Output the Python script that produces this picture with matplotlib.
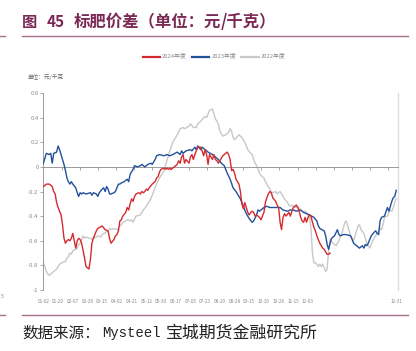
import numpy as np
import matplotlib
matplotlib.use("Agg")
import matplotlib.pyplot as plt
from matplotlib.lines import Line2D

plt.rcParams['font.family'] = ['Noto Sans CJK SC', 'DejaVu Sans']
plt.rcParams['axes.unicode_minus'] = False

# === DATA (trading-day index, price spread in yuan/kg) ===
days_2023 = [0, 2, 4, 5, 6, 7, 9, 10, 11, 12, 14, 15, 16, 17, 18, 19, 20, 22, 23, 24, 25, 26, 27, 29,
             32, 33, 34, 36, 37, 38, 40, 41, 42, 43, 44, 45, 46, 48, 49, 50, 51, 52, 53, 55, 57, 58,
             59, 61, 62, 64, 66, 67, 69, 71, 73, 74, 76, 77, 79, 82, 84, 86, 88, 91, 93, 94, 95, 97,
             100, 101, 103, 104, 105, 107, 108, 110, 112, 115, 117, 119, 121, 123, 125, 127, 129,
             131, 134, 136, 138, 140, 142, 143, 145, 146, 147, 150, 152, 154, 156, 159, 161, 163,
             166, 168, 170, 172, 175, 177, 179, 181, 184, 186, 187, 188, 191, 192, 193, 194, 195,
             196, 198, 200, 201, 202, 204, 206, 209, 210, 211, 213, 215, 217, 218, 219, 220, 221,
             222, 223, 225, 226, 227, 228, 229, 230, 232, 234, 235, 236, 237, 238, 239, 240]
vals_2023 = [0.03, 0.11, 0.10, 0.11, 0.03, 0.11, 0.12, 0.17, 0.14, 0.10, 0.02, -0.03, -0.09, -0.12,
             -0.14, -0.12, -0.14, -0.17, -0.21, -0.24, -0.21, -0.22, -0.21, -0.22, -0.21, -0.23,
             -0.21, -0.22, -0.24, -0.21, -0.18, -0.17, -0.20, -0.16, -0.18, -0.22, -0.22, -0.21,
             -0.20, -0.17, -0.14, -0.14, -0.13, -0.12, -0.10, -0.12, -0.06, -0.02, 0.01, 0.00, 0.01,
             0.02, 0.00, 0.02, 0.03, 0.02, 0.06, 0.09, 0.10, 0.09, 0.10, 0.09, 0.10, 0.12, 0.10,
             0.13, 0.11, 0.13, 0.14, 0.13, 0.16, 0.14, 0.17, 0.14, 0.16, 0.14, 0.12, 0.10, 0.08,
             0.06, 0.03, 0.01, -0.05, -0.10, -0.17, -0.20, -0.26, -0.32, -0.38, -0.42, -0.45, -0.44,
             -0.39, -0.35, -0.36, -0.33, -0.32, -0.33, -0.33, -0.33, -0.33, -0.35, -0.36, -0.35,
             -0.35, -0.36, -0.35, -0.37, -0.38, -0.39, -0.41, -0.44, -0.48, -0.50, -0.52, -0.56,
             -0.63, -0.67, -0.62, -0.58, -0.56, -0.51, -0.55, -0.56, -0.55, -0.55, -0.56, -0.59,
             -0.62, -0.64, -0.66, -0.64, -0.66, -0.63, -0.64, -0.62, -0.59, -0.56, -0.53, -0.52,
             -0.54, -0.55, -0.44, -0.41, -0.40, -0.33, -0.36, -0.32, -0.28, -0.25, -0.24, -0.19]

days_2024 = [0, 2, 4, 6, 7, 8, 9, 10, 11, 12, 13, 14, 15, 16, 17, 18, 19, 20, 21, 22, 23, 24, 25,
             26, 27, 28, 29, 31, 32, 33, 34, 35, 36, 37, 40, 42, 44, 45, 46, 48, 49, 50, 51, 52,
             53, 54, 56, 57, 58, 59, 60, 61, 62, 63, 65, 66, 67, 68, 69, 70, 71, 72, 74, 75, 76,
             77, 78, 79, 80, 82, 83, 84, 85, 86, 87, 88, 90, 91, 92, 93, 94, 95, 96, 97, 99, 100,
             101, 102, 103, 104, 105, 107, 108, 109, 110, 111, 112, 113, 115, 116, 117, 118, 119,
             120, 122, 123, 125, 126, 127, 128, 129, 130, 131, 133, 134, 135, 136, 137, 138, 139,
             140, 141, 142, 143, 144, 145, 146, 147, 148, 150, 151, 152, 153, 154, 155, 156, 158,
             159, 160, 161, 162, 163, 164, 165, 167, 168, 169, 170, 171, 172, 173, 174, 175, 176,
             177, 178, 179, 180, 181, 182, 183, 184, 185, 186, 187, 188, 189, 190, 191, 192, 193,
             194, 195]
vals_2024 = [-0.16, -0.14, -0.14, -0.16, -0.20, -0.22, -0.29, -0.33, -0.36, -0.39, -0.47, -0.58,
             -0.62, -0.60, -0.59, -0.60, -0.58, -0.54, -0.60, -0.66, -0.60, -0.58, -0.59, -0.62,
             -0.68, -0.74, -0.81, -0.83, -0.75, -0.62, -0.58, -0.55, -0.52, -0.50, -0.48, -0.51,
             -0.52, -0.58, -0.62, -0.59, -0.56, -0.55, -0.52, -0.44, -0.43, -0.40, -0.37, -0.33,
             -0.35, -0.30, -0.26, -0.28, -0.24, -0.22, -0.21, -0.22, -0.20, -0.21, -0.20, -0.18,
             -0.19, -0.17, -0.14, -0.13, -0.12, -0.09, -0.08, -0.04, -0.02, -0.01, -0.02, -0.01,
             -0.02, -0.01, -0.02, -0.01, 0.01, 0.02, 0.05, 0.03, 0.08, 0.10, 0.03, 0.06, 0.03,
             0.08, 0.10, 0.06, 0.10, 0.13, 0.16, 0.16, 0.13, 0.09, 0.14, 0.10, 0.02, 0.10, 0.06,
             0.10, 0.06, 0.05, 0.03, 0.05, 0.09, 0.10, 0.12, 0.10, 0.06, -0.03, -0.02, -0.05,
             -0.10, -0.14, -0.20, -0.30, -0.34, -0.29, -0.33, -0.37, -0.39, -0.37, -0.36, -0.37,
             -0.40, -0.39, -0.40, -0.41, -0.43, -0.37, -0.29, -0.25, -0.22, -0.20, -0.21, -0.25,
             -0.28, -0.31, -0.33, -0.45, -0.51, -0.41, -0.38, -0.40, -0.37, -0.40, -0.36, -0.33,
             -0.32, -0.31, -0.33, -0.36, -0.41, -0.44, -0.45, -0.41, -0.45, -0.41, -0.39, -0.40,
             -0.45, -0.49, -0.52, -0.56, -0.59, -0.62, -0.64, -0.66, -0.67, -0.69, -0.71, -0.71,
             -0.70]

days_2022 = [0, 1, 2, 3, 4, 6, 7, 9, 10, 11, 14, 15, 16, 17, 18, 19, 20, 22, 23, 24, 25, 26, 27,
             28, 29, 31, 32, 33, 34, 36, 37, 39, 40, 41, 42, 43, 44, 45, 46, 48, 50, 51, 52, 53,
             54, 56, 57, 58, 59, 60, 61, 63, 66, 68, 70, 73, 75, 77, 79, 82, 84, 86, 88, 91, 93,
             95, 96, 99, 100, 102, 104, 105, 107, 109, 110, 111, 113, 115, 116, 117, 118, 119, 120,
             121, 122, 124, 126, 127, 128, 129, 130, 133, 135, 136, 137, 138, 139, 141, 142, 143,
             144, 145, 146, 147, 148, 150, 151, 152, 153, 154, 155, 156, 158, 159, 160, 161, 162,
             163, 164, 166, 167, 168, 169, 170, 172, 173, 175, 176, 177, 178, 179, 180, 181, 182,
             183, 184, 185, 186, 187, 188, 189, 190, 191, 192, 193, 194, 195, 197, 199, 201, 202,
             203, 204, 205, 206, 207, 208, 209, 211, 212, 213, 214, 215, 216, 218, 219, 220, 221,
             222, 223, 224, 225, 227, 228, 229, 230, 231, 232, 234, 235, 236, 237, 238, 239, 240]
vals_2022 = [-0.78, -0.81, -0.85, -0.87, -0.88, -0.86, -0.85, -0.83, -0.81, -0.79, -0.77, -0.77,
             -0.74, -0.73, -0.70, -0.71, -0.68, -0.67, -0.66, -0.63, -0.62, -0.59, -0.56, -0.58,
             -0.57, -0.58, -0.58, -0.59, -0.58, -0.57, -0.56, -0.57, -0.55, -0.54, -0.54, -0.52,
             -0.52, -0.50, -0.51, -0.50, -0.51, -0.50, -0.48, -0.47, -0.45, -0.44, -0.43, -0.43,
             -0.44, -0.43, -0.45, -0.40, -0.39, -0.35, -0.32, -0.26, -0.20, -0.14, -0.09, -0.03,
             0.05, 0.13, 0.20, 0.26, 0.31, 0.32, 0.31, 0.33, 0.35, 0.32, 0.32, 0.35, 0.37, 0.40,
             0.41, 0.40, 0.46, 0.47, 0.43, 0.39, 0.37, 0.35, 0.29, 0.27, 0.25, 0.26, 0.28, 0.31,
             0.29, 0.24, 0.22, 0.26, 0.24, 0.22, 0.20, 0.17, 0.14, 0.11, 0.10, 0.06, 0.03, 0.01,
             -0.02, -0.05, -0.07, -0.09, -0.12, -0.14, -0.16, -0.18, -0.20, -0.21, -0.20, -0.22,
             -0.21, -0.20, -0.22, -0.24, -0.26, -0.29, -0.31, -0.32, -0.31, -0.32, -0.33, -0.32,
             -0.35, -0.36, -0.37, -0.36, -0.37, -0.39, -0.41, -0.50, -0.70, -0.78, -0.78, -0.79,
             -0.81, -0.79, -0.81, -0.79, -0.82, -0.85, -0.83, -0.68, -0.59, -0.62, -0.64, -0.60,
             -0.56, -0.54, -0.50, -0.45, -0.44, -0.48, -0.52, -0.56, -0.60, -0.56, -0.52, -0.48,
             -0.47, -0.51, -0.54, -0.58, -0.62, -0.64, -0.66, -0.63, -0.60, -0.58, -0.54, -0.52,
             -0.50, -0.51, -0.47, -0.41, -0.40, -0.37, -0.35, -0.36, -0.33, -0.29, -0.26]

date_labels = ["01-02", "01-20", "02-07", "02-26", "03-15", "04-02", "04-21", "05-12", "05-30",
               "06-17", "07-05", "07-23", "08-10", "08-28", "09-15", "10-10", "10-28", "11-15",
               "12-03", "12-31"]
label_days = [0, 10, 20, 30, 40, 50, 60, 70, 80, 90, 100, 110, 120, 130, 140, 150, 160, 170,
              180, 240.5]
series_names = ["2024年度", "2023年度", "2022年度"]

# === STYLE ===
RED = "#d42a2f"
BLUE = "#22509b"
GREY = "#c8c8c8"
WINE = "#7a2a55"
RULE = "#a8708c"
AXIS = "#9a9a9a"
TXT = "#8a8a8a"

fig = plt.figure(figsize=(4.16, 3.51), dpi=100)
ax = fig.add_axes([43.4 / 416, 1 - 290 / 351, (398 - 43.4) / 416, (290 - 93) / 351])

ax.plot(days_2022, vals_2022, color=GREY, lw=1.0, zorder=2)
ax.plot(days_2023, vals_2023, color=BLUE, lw=1.0, zorder=3)
ax.plot(days_2024, vals_2024, color=RED, lw=1.0, zorder=4)

ax.set_xlim(0, 241.2)
ax.set_ylim(-1, 0.6)
ax.set_yticks(np.arange(-1, 0.61, 0.2))
ax.set_yticklabels(["-1", "-0.8", "-0.6", "-0.4", "-0.2", "0", "0.2", "0.4", "0.6"])
ax.tick_params(axis='y', length=2, width=0.6, color=AXIS, labelsize=4.3, labelcolor=TXT, pad=1.5)

# x axis crosses at zero, ticks without labels
ax.spines['bottom'].set_position(('data', 0))
ax.spines['bottom'].set_color(AXIS)
ax.spines['bottom'].set_linewidth(0.7)
ax.set_xticks(np.arange(1, 20) * 12.35)
ax.set_xticklabels([])
ax.tick_params(axis='x', length=2.2, width=0.6, color=AXIS)
ax.spines['left'].set_color(AXIS)
ax.spines['left'].set_linewidth(0.7)
ax.spines['right'].set_color("#dcdcdc")
ax.spines['right'].set_linewidth(1.0)
ax.spines['top'].set_visible(False)

# date labels along the bottom edge
sec = ax.secondary_xaxis('bottom')
sec.spines['bottom'].set_visible(False)
sec.set_xticks(label_days)
sec.set_xticklabels(date_labels)
sec.tick_params(length=0, labelsize=3.4, labelcolor=TXT, pad=6.5)

ax.text(-0.045, 1.08, "单位：元/千克", transform=ax.transAxes, fontsize=4.1, color="#666666",
        ha='left', va='center')

handles = [Line2D([], [], color=c, lw=1.6) for c in (RED, BLUE, GREY)]
fig.legend(handles, series_names, loc='center', bbox_to_anchor=(214 / 416, 1 - 57 / 351), ncol=3,
           frameon=False, fontsize=4.2, labelcolor=TXT, handlelength=3.0, handletextpad=0.3,
           columnspacing=0.9)

# === PAGE FRAME: title, rules, source ===
ty = 1 - 22 / 351
fig.text(22 / 416, ty, "图", fontsize=11, weight='bold', color=WINE, ha='left', va='center')
fig.text(47 / 416, ty, "45", fontsize=11, weight='bold', color=WINE, ha='left', va='center')
fig.text(74 / 416, ty, "标肥价差（单位：元", fontsize=11.8, weight='bold', color=WINE,
         ha='left', va='center')
fig.text(221 / 416, ty, "/千克）", fontsize=11.8, weight='bold', color=WINE,
         ha='left', va='center')
fig.add_artist(Line2D([22 / 416, 408 / 416], [1 - 35.5 / 351, 1 - 35.5 / 351], color=RULE, lw=1.0))
fig.add_artist(Line2D([0, 5 / 416], [1 - 35.5 / 351, 1 - 35.5 / 351], color=RULE, lw=1.0))
fig.add_artist(Line2D([22 / 416, 408 / 416], [1 - 315 / 351, 1 - 315 / 351], color=RULE, lw=1.0))
fig.add_artist(Line2D([0, 5 / 416], [1 - 315 / 351, 1 - 315 / 351], color=RULE, lw=1.0))

sy = 1 - 333 / 351
fig.text(22 / 416, sy, "数据来源：", fontsize=11.2, color="#222222", ha='left', va='center')
fig.text(102 / 416, sy, "Mysteel", fontsize=10, family='Liberation Mono', color="#222222",
         ha='left', va='center')
fig.text(166 / 416, sy, "宝城期货金融研究所", fontsize=12.2, color="#222222", ha='left',
         va='center')
fig.text(1 / 416, 1 - 297 / 351, "5", fontsize=4, color=TXT, ha='left', va='center')

fig.savefig("out.png", dpi=100)
